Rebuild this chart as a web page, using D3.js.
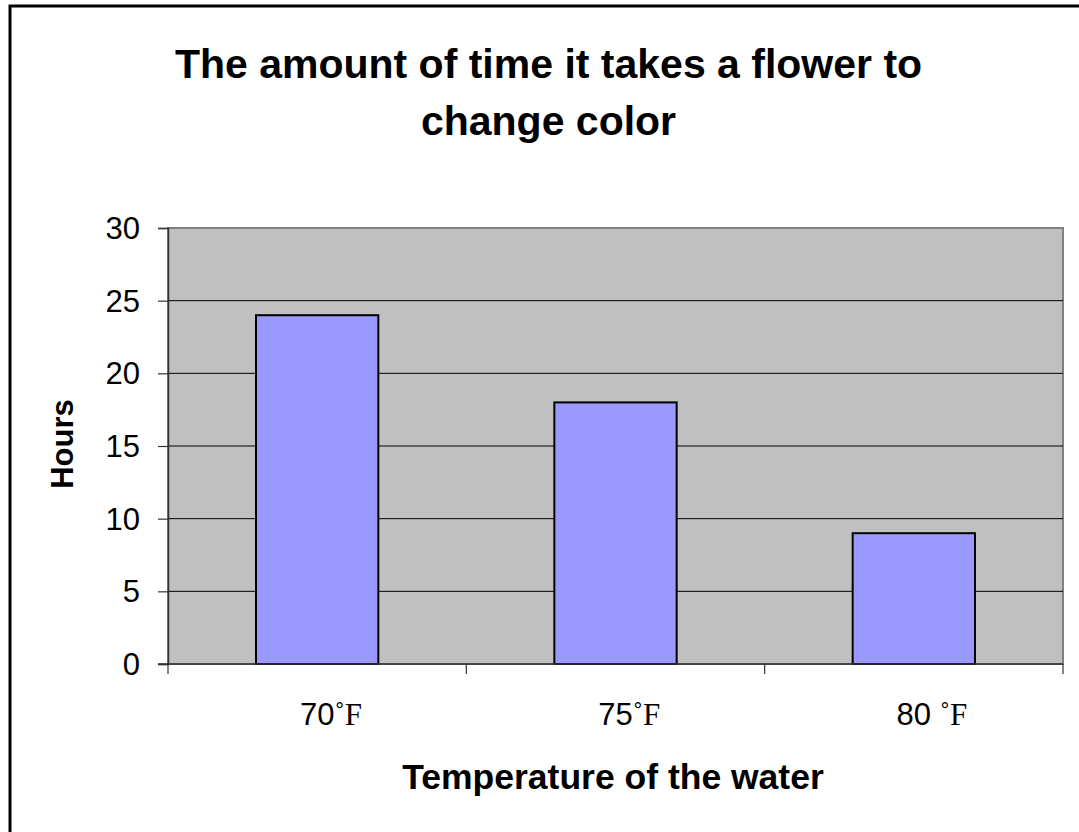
<!DOCTYPE html>
<html>
<head>
<meta charset="utf-8">
<script src="https://cdn.jsdelivr.net/npm/d3@7/dist/d3.min.js"></script>
<style>
  html, body { margin: 0; padding: 0; background: #fff; }
  svg { display: block; }
</style>
</head>
<body>
<svg id="chart" width="1079" height="832"></svg>
<script>
const categories = ["70", "75", "80 "];
const unitLabel = "\u02DAF";
const hours = [24, 18, 9];
const yTicks = [0, 5, 10, 15, 20, 25, 30];
const titleLines = ["The amount of time it takes a flower to", "change color"];
const xTitle = "Temperature of the water";
const yTitle = "Hours";

const svg = d3.select("#chart");
const W = 1079, H = 832;
const plot = { left: 168, right: 1063, top: 228, bottom: 664 };

svg.append("rect").attr("x", 0).attr("y", 0).attr("width", W).attr("height", H).attr("fill", "#fff");
// outer chart border (only top/left visible)
svg.append("rect").attr("x", 10).attr("y", 6).attr("width", W + 20).attr("height", H + 20)
  .attr("fill", "none").attr("stroke", "#000").attr("stroke-width", 3);

const x = d3.scaleBand().domain(categories).range([plot.left, plot.right])
  .paddingInner(0.59).paddingOuter(0.295);
const y = d3.scaleLinear().domain([0, 30]).range([plot.bottom, plot.top]);

// plot area
svg.append("rect").attr("x", plot.left).attr("y", plot.top)
  .attr("width", plot.right - plot.left).attr("height", plot.bottom - plot.top)
  .attr("fill", "#C0C0C0").attr("stroke", "#808080").attr("stroke-width", 2);

// gridlines
svg.append("g").selectAll("line").data(yTicks.filter(d => d > 0 && d < 30)).join("line")
  .attr("x1", plot.left).attr("x2", plot.right)
  .attr("y1", d => y(d)).attr("y2", d => y(d))
  .attr("stroke", "#000").attr("stroke-width", 1);

// bars
svg.append("g").selectAll("rect").data(categories).join("rect")
  .attr("x", d => x(d)).attr("width", x.bandwidth())
  .attr("y", (d, i) => y(hours[i])).attr("height", (d, i) => y(0) - y(hours[i]))
  .attr("fill", "#9999FF").attr("stroke", "#000").attr("stroke-width", 2);

// y axis
const yAxis = d3.axisLeft(y).tickValues(yTicks).tickSize(10).tickPadding(18).tickFormat(d3.format("d"));
const gy = svg.append("g").attr("transform", `translate(${plot.left},0)`).call(yAxis);
gy.select(".domain").attr("stroke", "#333").attr("stroke-width", 1.5);
gy.selectAll(".tick line").attr("stroke", "#333").attr("stroke-width", 1.2);
gy.selectAll(".tick text").attr("font-family", "Arial, 'Liberation Sans', sans-serif")
  .attr("font-size", 31).attr("fill", "#000").attr("dy", "0.34em");

// x axis baseline
svg.append("line").attr("x1", plot.left - 10).attr("x2", plot.right)
  .attr("y1", plot.bottom).attr("y2", plot.bottom).attr("stroke", "#333").attr("stroke-width", 1.5);
// category separator ticks
const step = x.step();
const boundaries = d3.range(categories.length + 1).map(i => plot.left + i * step);
svg.append("g").selectAll("line").data(boundaries).join("line")
  .attr("x1", d => d).attr("x2", d => d)
  .attr("y1", plot.bottom).attr("y2", plot.bottom + 10)
  .attr("stroke", "#333").attr("stroke-width", 1.2);

// category labels
const labelG = svg.append("g");
categories.forEach((c, i) => {
  const cx = x(c) + x.bandwidth() / 2;
  const t = labelG.append("text").attr("y", 725).attr("fill", "#000");
  const num = t.append("tspan").attr("font-family", "Arial, 'Liberation Sans', sans-serif")
    .attr("font-size", 31).text(c.trim());
  const numW = num.node().getComputedTextLength();
  if (c !== c.trim()) {
    t.append("tspan").attr("font-family", "Arial, 'Liberation Sans', sans-serif")
      .attr("font-size", 31).attr("xml:space", "preserve").style("white-space", "pre").text(" ");
  }
  t.append("tspan").attr("font-family", "'Times New Roman', 'Liberation Serif', serif")
    .attr("font-size", 31).text(unitLabel);
  t.attr("x", cx - numW / 2);
});

// title
svg.append("g").selectAll("text").data(titleLines).join("text")
  .attr("x", 548.5).attr("y", (d, i) => 78 + i * 57)
  .attr("text-anchor", "middle")
  .attr("font-family", "Arial, 'Liberation Sans', sans-serif")
  .attr("font-weight", "bold").attr("font-size", 41).attr("fill", "#000")
  .text(d => d);

// x title
svg.append("text").attr("x", 613).attr("y", 789).attr("text-anchor", "middle")
  .attr("font-family", "Arial, 'Liberation Sans', sans-serif")
  .attr("font-weight", "bold").attr("font-size", 35.5).attr("fill", "#000")
  .text(xTitle);

// y title
svg.append("text").attr("transform", "translate(73,444) rotate(-90)").attr("text-anchor", "middle")
  .attr("font-family", "Arial, 'Liberation Sans', sans-serif")
  .attr("font-weight", "bold").attr("font-size", 31).attr("fill", "#000")
  .text(yTitle);
</script>
</body>
</html>
